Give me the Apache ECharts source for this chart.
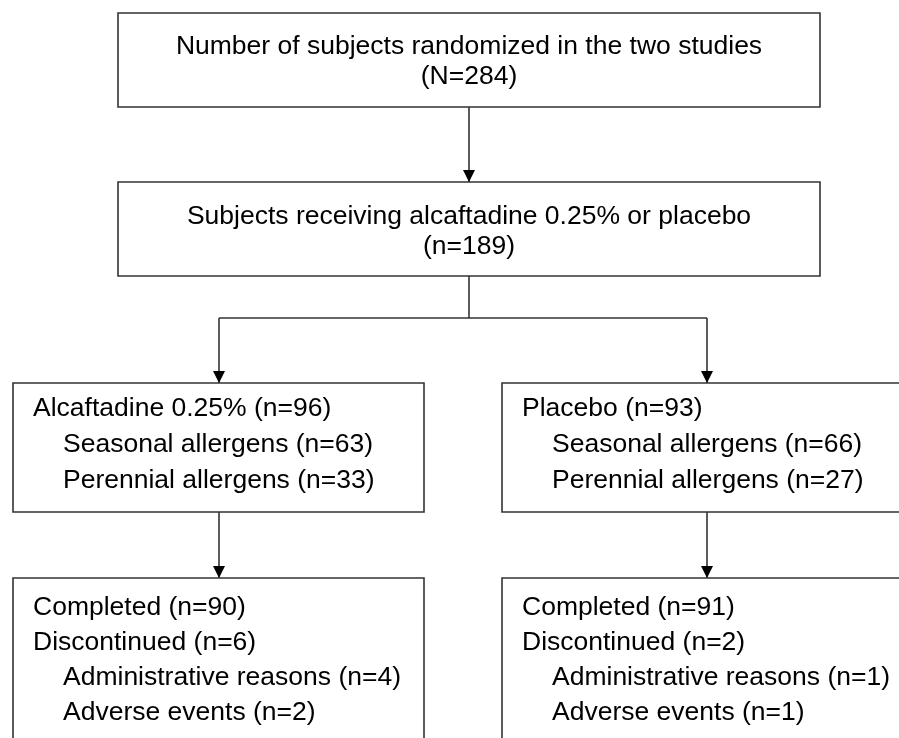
<!DOCTYPE html>
<html>
<head>
<meta charset="utf-8">
<script src="https://cdn.jsdelivr.net/npm/echarts@6/dist/echarts.min.js"></script>
<style>html,body{margin:0;padding:0;background:#fff}#c{width:899px;height:738px}</style>
</head>
<body>
<div id="c"></div>
<script>
// ---- data ----
const randomizedN = 284;
const treatedN = 189;
const groupNames = ['Alcaftadine 0.25%', 'Placebo'];
const groupN = [96, 93];
const seasonalN = [63, 66];
const perennialN = [33, 27];
const completedN = [90, 91];
const discontinuedN = [6, 2];
const adminN = [4, 1];
const adverseN = [2, 1];

// ---- text built from data ----
const topLines = ['Number of subjects randomized in the two studies', '(N=' + randomizedN + ')'];
const treatedLines = ['Subjects receiving alcaftadine 0.25% or placebo', '(n=' + treatedN + ')'];
function groupLines(i) {
  return [
    [groupNames[i] + ' (n=' + groupN[i] + ')', 0],
    ['Seasonal allergens (n=' + seasonalN[i] + ')', 1],
    ['Perennial allergens (n=' + perennialN[i] + ')', 1]
  ];
}
function outcomeLines(i) {
  return [
    ['Completed (n=' + completedN[i] + ')', 0],
    ['Discontinued (n=' + discontinuedN[i] + ')', 0],
    ['Administrative reasons (n=' + adminN[i] + ')', 1],
    ['Adverse events (n=' + adverseN[i] + ')', 1]
  ];
}

// ---- layout (canvas units) ----
const W = 899, H = 738;
const layout = [
  {x0: 118, y0: 13, x1: 820, y1: 107, center: true, lines: topLines.map(t => [t, 0]), ly: [47, 77]},
  {x0: 118, y0: 182, x1: 820, y1: 276, center: true, lines: treatedLines.map(t => [t, 0]), ly: [217, 247]},
  {x0: 13, y0: 383, x1: 424, y1: 512, lines: groupLines(0), ly: [409, 445, 481]},
  {x0: 502, y0: 383, x1: 910, y1: 512, lines: groupLines(1), ly: [409, 445, 481]},
  {x0: 13, y0: 578, x1: 424, y1: 750, lines: outcomeLines(0), ly: [608, 643, 678, 713]},
  {x0: 502, y0: 578, x1: 910, y1: 750, lines: outcomeLines(1), ly: [608, 643, 678, 713]}
];
const connectors = [
  {pts: [[469, 107], [469, 182]], arrow: true},
  {pts: [[469, 276], [469, 318]], arrow: false},
  {pts: [[219, 318], [707, 318]], arrow: false},
  {pts: [[219, 318], [219, 383]], arrow: true},
  {pts: [[707, 318], [707, 383]], arrow: true},
  {pts: [[219, 512], [219, 578]], arrow: true},
  {pts: [[707, 512], [707, 578]], arrow: true}
];

const FONT = '"Liberation Sans", Arial, Helvetica, sans-serif';
const FS = 26.5;
const LINE = '#333';

function renderBox(params, api) {
  const b = layout[params.dataIndex];
  const p0 = api.coord([b.x0, b.y0]);
  const p1 = api.coord([b.x1, b.y1]);
  const children = [{
    type: 'rect',
    shape: {x: p0[0], y: p0[1], width: p1[0] - p0[0], height: p1[1] - p0[1]},
    style: {fill: '#fff', stroke: LINE, lineWidth: 1.6}
  }];
  b.lines.forEach((ln, k) => {
    let pos;
    if (b.center) pos = api.coord([(b.x0 + b.x1) / 2, b.ly[k]]);
    else pos = api.coord([b.x0 + 20 + ln[1] * 30, b.ly[k]]);
    children.push({
      type: 'text',
      x: pos[0], y: pos[1],
      style: {
        text: ln[0], fill: '#000', font: FS + 'px ' + FONT,
        align: b.center ? 'center' : 'left', verticalAlign: 'middle'
      }
    });
  });
  return {type: 'group', children: children};
}

function renderConnector(params, api) {
  const c = connectors[params.dataIndex];
  const pts = c.pts.map(p => api.coord(p));
  const children = [{
    type: 'polyline',
    shape: {points: pts},
    style: {stroke: LINE, lineWidth: 1.6, fill: null}
  }];
  if (c.arrow) {
    const e = pts[pts.length - 1];
    children.push({
      type: 'polygon',
      shape: {points: [[e[0] - 6, e[1] - 12], [e[0] + 6, e[1] - 12], [e[0], e[1]]]},
      style: {fill: '#000', stroke: null}
    });
  }
  return {type: 'group', children: children};
}

const chart = echarts.init(document.getElementById('c'), null, {renderer: 'canvas'});
chart.setOption({
  animation: false,
  backgroundColor: '#fff',
  grid: {left: 0, right: 0, top: 0, bottom: 0},
  xAxis: {type: 'value', min: 0, max: W, show: false},
  yAxis: {type: 'value', min: 0, max: H, inverse: true, show: false},
  series: [
    {type: 'custom', coordinateSystem: 'cartesian2d', clip: true, renderItem: renderConnector,
     data: connectors.map((c, i) => [c.pts[0][0], c.pts[0][1]]), z: 1},
    {type: 'custom', coordinateSystem: 'cartesian2d', clip: true, renderItem: renderBox,
     data: layout.map(b => [b.x0, b.y0]), z: 2}
  ]
});
</script>
</body>
</html>
